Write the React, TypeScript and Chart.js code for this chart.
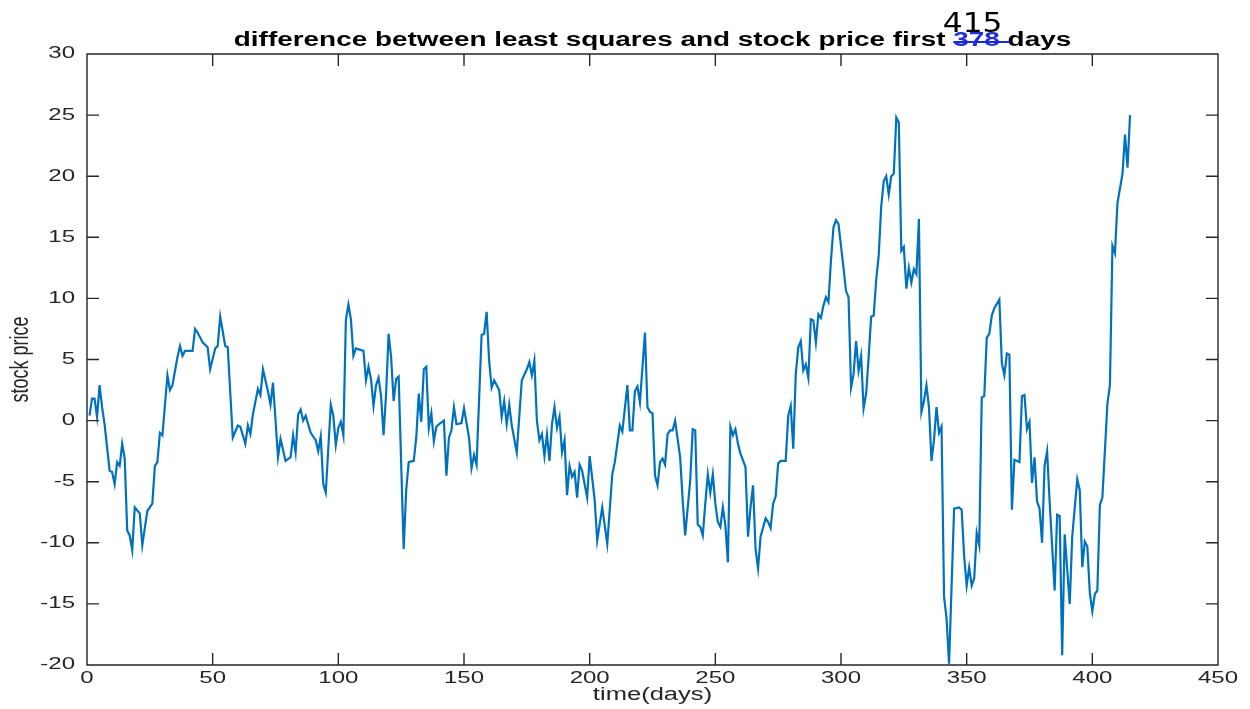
import React, { useEffect, useRef } from "react";
import { Chart, registerables } from "chart.js";

Chart.register(...registerables);

// traced vertices of the line (day, value)
const days = [
  1, 2, 3, 4, 5, 6, 7, 9, 10, 11, 12, 13, 14, 15, 16, 17, 18, 19, 21, 22, 24, 26, 27, 28, 29, 30,
  32, 33, 34, 36, 37, 38, 39, 42, 43, 44, 46, 48, 49, 51, 52, 53, 55, 56, 58, 60, 61, 63, 64, 65,
  66, 68, 69, 70, 72, 73, 74, 76, 77, 79, 81, 82, 83, 84, 85, 86, 87, 89, 91, 92, 93, 94, 95, 97,
  98, 99, 100, 101, 102, 103, 104, 105, 106, 107, 110, 111, 112, 113, 114, 115, 116, 117, 118, 119,
  120, 121, 122, 123, 124, 126, 127, 128, 130, 131, 132, 133, 134, 135, 136, 137, 138, 139, 140,
  142, 143, 144, 145, 146, 147, 149, 150, 152, 153, 154, 155, 157, 158, 159, 160, 161, 162, 164,
  165, 166, 167, 168, 169, 171, 173, 175, 176, 177, 178, 179, 180, 181, 182, 183, 184, 185, 186,
  187, 188, 189, 190, 191, 192, 193, 194, 195, 196, 197, 199, 200, 202, 203, 205, 207, 209, 210,
  212, 213, 215, 216, 217, 218, 219, 220, 222, 223, 224, 225, 226, 227, 228, 229, 230, 231, 232,
  233, 234, 236, 237, 238, 240, 241, 242, 243, 244, 245, 246, 247, 248, 249, 250, 251, 252, 253,
  254, 255, 256, 257, 258, 259, 260, 262, 263, 264, 265, 266, 267, 268, 270, 271, 272, 273, 274,
  275, 276, 278, 279, 280, 281, 282, 283, 284, 285, 286, 287, 288, 289, 290, 291, 292, 293, 294,
  295, 296, 297, 298, 299, 301, 302, 303, 304, 305, 306, 307, 308, 309, 310, 311, 312, 313, 314,
  315, 316, 317, 318, 319, 320, 321, 322, 323, 324, 325, 326, 327, 328, 329, 330, 331, 332, 333,
  334, 335, 336, 337, 338, 339, 340, 341, 342, 343, 345, 347, 348, 349, 350, 351, 352, 353, 354,
  355, 356, 357, 358, 359, 360, 361, 363, 364, 365, 366, 367, 368, 369, 371, 372, 373, 374, 375,
  376, 377, 378, 379, 380, 381, 382, 383, 385, 386, 387, 388, 389, 391, 392, 394, 395, 396, 397,
  398, 399, 400, 401, 402, 403, 404, 406, 407, 408, 409, 410, 412, 413, 414, 415,
];

const prices = [
  0.4, 1.8, 1.8, 0.3, 2.9, 1.1, -0.3, -4.1, -4.2, -5.2, -3.4, -3.7, -1.9, -3.1, -9.0, -9.4, -10.6,
  -7.1, -7.6, -10.2, -7.4, -6.8, -3.7, -3.4, -1.0, -1.2,
  3.7, 2.5, 2.9, 5.2, 6.1, 5.3, 5.7, 5.7, 7.5, 7.2, 6.4, 6.0, 4.2, 5.9, 6.1, 8.5, 6.1, 6.0, -1.4,
  -0.4, -0.5, -1.9, -0.4, -1.1,
  0.5, 2.6, 2.1, 4.2, 2.4, 1.3, 3.1, -3.0, -1.5, -3.3, -3.0, -1.2, -2.6, 0.5, 0.9, 0.0, 0.4, -1.0,
  -1.6, -2.5, -1.3, -5.2, -5.9, 1.3,
  0.4, -2.0, -0.6, -0.1, -1.2, 8.2, 9.5, 8.3, 5.3, 5.9, 5.7, 3.3, 4.4, 3.4, 1.2, 2.9, 3.5, 2.0,
  -1.2, 2.2,
  7.1, 5.2, 1.6, 3.4, 3.6, -10.5, -5.7, -3.4, -3.3, -1.4, 2.2, -0.1, 4.2, 4.4, -0.6, 0.6, -1.7,
  -0.5, -0.3,
  0.0, -4.5, -1.4, -0.8, 1.1, -0.3, -0.2, 1.0, -1.4, -3.9, -2.8, -3.6, 7.0, 7.1, 8.9, 4.9, 2.7,
  3.3, 2.5,
  0.3, 1.6, -0.3, 1.3, -0.4, -2.6, 3.3, 4.2, 4.8, 3.7, 4.9, 0.0, -1.6, -1.1, -2.9, -1.1, -3.3,
  -0.3, 1.1,
  -0.6, 0.3, -2.6, -1.6, -6.1, -3.7, -4.6, -4.2, -6.3, -3.6, -4.1, -6.3, -2.9, -6.5, -9.8, -7.1,
  -10.1, -4.4, -3.4,
  -0.4, -0.9, 2.9, -0.8, -0.8, 2.4, 2.8, 1.5, 7.2, 1.1, 0.7, 0.6, -4.5, -5.3, -3.4, -3.1, -3.6,
  -1.1, -0.8,
  -0.8, 0.0, -3.0, -6.5, -9.4, -4.9, -0.7, -0.8, -8.5, -8.7, -9.4, -6.8, -4.4, -5.9, -4.4, -6.8,
  -8.3, -8.7, -7.1,
  -8.6, -11.6, -0.5, -1.2, -0.7, -1.9, -2.7, -3.8, -9.5, -7.1, -5.3, -10.5, -12.1, -9.5, -8.0,
  -8.3, -8.8, -6.8, -6.2,
  -3.5, -3.3, -3.3, 0.4, 1.2, -2.3, 3.8, 6.0, 6.5, 4.1, 4.6, 3.5, 8.3, 8.2, 6.4, 8.7, 8.4, 9.4,
  10.1,
  9.7, 13.1, 15.8, 16.4, 16.1, 12.5, 10.6, 10.1, 2.7, 3.8, 6.5, 4.1, 5.3, 1.0, 2.2, 5.2, 8.5, 8.6,
  11.5,
  13.5, 17.5, 19.6, 20.0, 18.5, 20.0, 20.2, 24.8, 24.4, 13.9, 14.2, 10.8, 12.5, 11.3, 12.4, 12.0,
  16.5, 0.7, 1.6,
  2.9, 1.1, -3.3, -1.6, 1.1, -1.0, -0.5, -14.4, -16.2, -19.9, -7.2, -7.1, -7.3, -11.1, -13.5,
  -12.0, -13.5, -12.9, -9.2,
  -10.2, 1.9, 2.0, 6.8, 7.1, 8.6, 9.2, 9.9, 4.7, 3.7, 5.5, 5.4, -7.3, -3.2, -3.4, 2.0, 2.1, -0.7,
  -0.1,
  -5.1, -3.0, -6.6, -7.2, -10.0, -3.7, -2.5, -6.6, -13.9, -7.7, -7.8, -19.2, -9.3, -15.0, -9.5,
  -4.8, -5.7, -12.0, -9.9,
  -10.3, -14.1, -15.6, -14.2, -13.9, -6.9, -6.3, 1.4, 2.9, 14.3, 13.7, 17.8, 20.2, 23.4, 20.7, 25.0,
];

const xTicks = [0, 50, 100, 150, 200, 250, 300, 350, 400, 450];
const yTicks = [-20, -15, -10, -5, 0, 5, 10, 15, 20, 25, 30];
const titleBefore = "difference between least squares and stock price first ";
const titleStruck = "378";
const titleAfter = " days";
const titleCorrection = "415";
const xLabel = "time(days)";
const yLabel = "stock price";

const AXIS_COLOR = "#262626";
const LINE_COLOR = "#0072BD";

function drawText(
  ctx: CanvasRenderingContext2D,
  text: string,
  x: number,
  y: number,
  font: string,
  align: CanvasTextAlign,
  baseline: CanvasTextBaseline,
  color: string,
  sx: number
) {
  ctx.save();
  ctx.translate(x, y);
  ctx.scale(sx, 1);
  ctx.font = font;
  ctx.textAlign = align;
  ctx.textBaseline = baseline;
  ctx.fillStyle = color;
  ctx.fillText(text, 0, 0);
  ctx.restore();
}

const matlabAxes = {
  id: "matlabAxes",
  afterDraw(chart: any) {
    const ctx: CanvasRenderingContext2D = chart.ctx;
    const { left, right, top, bottom } = chart.chartArea;
    const xs = chart.scales.x;
    const ys = chart.scales.y;
    const TL = 12;
    ctx.save();
    ctx.strokeStyle = AXIS_COLOR;
    ctx.lineWidth = 1.4;
    ctx.beginPath();
    ctx.rect(left, top, right - left, bottom - top);
    xTicks.forEach((t) => {
      const px = xs.getPixelForValue(t);
      ctx.moveTo(px, bottom);
      ctx.lineTo(px, bottom - TL);
      ctx.moveTo(px, top);
      ctx.lineTo(px, top + TL);
    });
    yTicks.forEach((t) => {
      const py = ys.getPixelForValue(t);
      ctx.moveTo(left, py);
      ctx.lineTo(left + TL, py);
      ctx.moveTo(right, py);
      ctx.lineTo(right - TL, py);
    });
    ctx.stroke();

    const tickFont = "16px 'Liberation Sans', Arial, sans-serif";
    xTicks.forEach((t) => {
      drawText(ctx, String(t), xs.getPixelForValue(t), bottom + 6, tickFont, "center", "top", AXIS_COLOR, 1.5);
    });
    yTicks.forEach((t) => {
      drawText(ctx, String(t), left - 12, ys.getPixelForValue(t), tickFont, "right", "middle", AXIS_COLOR, 1.5);
    });

    // x label
    drawText(ctx, xLabel, (left + right) / 2, bottom + 35, "18px 'Liberation Sans', Arial, sans-serif", "center", "alphabetic", AXIS_COLOR, 1.42);

    // y label (rotated)
    ctx.save();
    ctx.translate(28, (top + bottom) / 2);
    ctx.scale(1.4, 1);
    ctx.rotate(-Math.PI / 2);
    ctx.font = "18px 'Liberation Sans', Arial, sans-serif";
    ctx.textAlign = "center";
    ctx.textBaseline = "alphabetic";
    ctx.fillStyle = AXIS_COLOR;
    ctx.fillText(yLabel, 0, 0);
    ctx.restore();

    // title
    const tFont = "bold 20px 'Liberation Sans', Arial, sans-serif";
    const sx = 1.395;
    ctx.font = tFont;
    const wB = ctx.measureText(titleBefore).width * sx;
    const wS = ctx.measureText(titleStruck).width * sx;
    const wA = ctx.measureText(titleAfter).width * sx;
    const total = wB + wS + wA;
    const x0 = (left + right) / 2 - total / 2;
    const by = top - 8;
    drawText(ctx, titleBefore, x0, by, tFont, "left", "alphabetic", "#000", sx);
    drawText(ctx, titleStruck, x0 + wB, by, tFont, "left", "alphabetic", "#1f2fd8", sx);
    drawText(ctx, titleAfter, x0 + wB + wS, by, tFont, "left", "alphabetic", "#000", sx);
    // strike-through
    ctx.strokeStyle = "#1a28e0";
    ctx.lineWidth = 2;
    ctx.beginPath();
    ctx.moveTo(x0 + wB, by - 4);
    ctx.lineTo(x0 + wB + wS + 10, by - 4);
    ctx.stroke();
    // handwritten correction
    drawText(ctx, titleCorrection, x0 + wB + wS / 2 - 4, by - 14, "26px 'DejaVu Sans', sans-serif", "center", "alphabetic", "#000", 1.2);

    ctx.restore();
  },
};

export default function App() {
  const ref = useRef<HTMLCanvasElement | null>(null);
  useEffect(() => {
    if (!ref.current) return;
    const chart = new Chart(ref.current, {
      type: "line",
      data: {
        datasets: [
          {
            data: days.map((d, i) => ({ x: d, y: prices[i] })),
            borderColor: LINE_COLOR,
            borderWidth: 2.2,
            pointRadius: 0,
            tension: 0,
            fill: false,
          },
        ],
      },
      options: {
        responsive: false,
        animation: false,
        layout: { padding: { top: 54, right: 32, left: 0, bottom: 0 } },
        plugins: {
          legend: { display: false },
          tooltip: { enabled: false },
          title: { display: false },
        },
        scales: {
          x: {
            type: "linear",
            min: 0,
            max: 450,
            ticks: { display: false, stepSize: 50 },
            grid: { display: false },
            border: { display: false },
            afterFit: (s: any) => {
              s.height = 44;
            },
          },
          y: {
            type: "linear",
            min: -20,
            max: 30,
            ticks: { display: false, stepSize: 5 },
            grid: { display: false },
            border: { display: false },
            afterFit: (s: any) => {
              s.width = 87;
            },
          },
        },
      },
      plugins: [matlabAxes],
    } as any);
    return () => chart.destroy();
  }, []);
  return (
    <div style={{ position: "fixed", left: 0, top: 0, width: 1250, height: 709, background: "#fff" }}>
      <canvas ref={ref} width={1250} height={709} style={{ display: "block" }} />
    </div>
  );
}
